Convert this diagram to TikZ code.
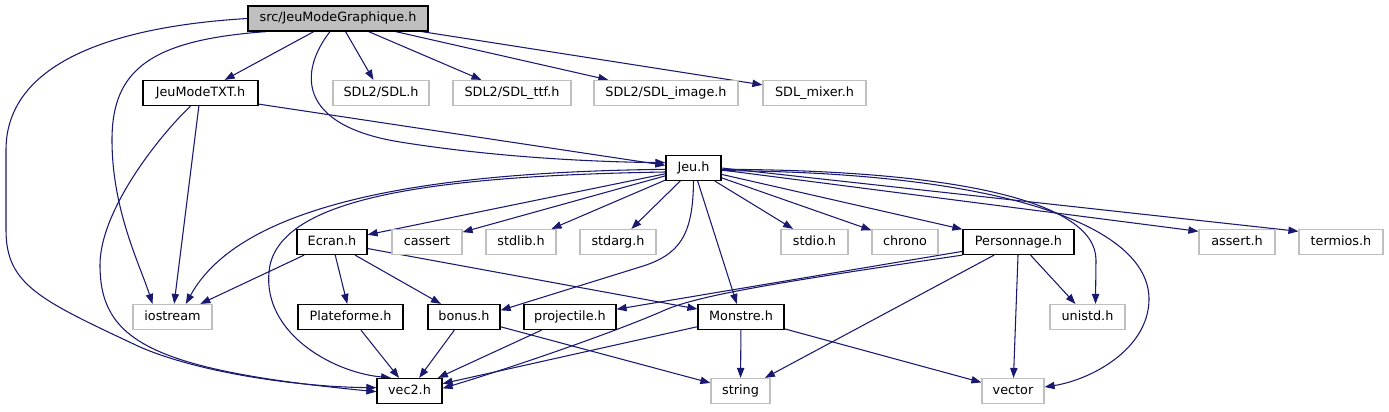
\documentclass[tikz,border=0pt]{standalone}
\usepackage{fontspec}
\setmainfont{DejaVu Sans}
\usetikzlibrary{arrows.meta,backgrounds}
\definecolor{edgeblue}{RGB}{25,25,112}
\definecolor{sysgray}{RGB}{191,191,191}
\tikzset{
  nodebase/.style={font=\fontsize{9.6}{11}\selectfont, inner sep=0pt, minimum height=18.75pt, text height=7pt, text depth=2pt, line width=0.9pt, fill=white},
  projbox/.style={nodebase, draw=black},
  sysbox/.style={nodebase, draw=sysgray},
  mainbox/.style={nodebase, draw=black, fill=sysgray},
  edge/.style={draw=edgeblue, line width=0.8pt, -{Triangle[length=7.5pt,width=5.5pt]}}
}
\begin{document}
\begin{tikzpicture}[x=0.75pt,y=-0.75pt]
\useasboundingbox (0,0) rectangle (1389,411);
% row 0
\node[mainbox, minimum width=135pt] (jmg) at (338,18.5) {src/JeuModeGraphique.h};
% row 1
\node[projbox, minimum width=86.25pt] (txt) at (200.5,93) {JeuModeTXT.h};
\node[sysbox, minimum width=72pt] (sdl) at (381,93) {SDL2/SDL.h};
\node[sysbox, minimum width=88.5pt] (ttf) at (512,93) {SDL2/SDL\_ttf.h};
\node[sysbox, minimum width=108pt] (img) at (666,93) {SDL2/SDL\_image.h};
\node[sysbox, minimum width=77.25pt] (mix) at (814.5,93) {SDL\_mixer.h};
% row 2
\node[projbox, minimum width=41.25pt] (jeu) at (693.5,168) {Jeu.h};
% row 3
\node[projbox, minimum width=52.5pt] (ecran) at (332,242) {Ecran.h};
\node[sysbox, minimum width=52.5pt] (cassert) at (427,242) {cassert};
\node[sysbox, minimum width=52.5pt] (stdlib) at (521,242) {stdlib.h};
\node[sysbox, minimum width=57pt] (stdarg) at (618,242) {stdarg.h};
\node[sysbox, minimum width=50.25pt] (stdio) at (814.5,242) {stdio.h};
\node[sysbox, minimum width=49.5pt] (chrono) at (905,242) {chrono};
\node[projbox, minimum width=83.25pt] (perso) at (1018.5,242) {Personnage.h};
\node[sysbox, minimum width=57pt] (assert) at (1237,242) {assert.h};
\node[sysbox, minimum width=63pt] (termios) at (1341,242) {termios.h};
% row 4
\node[sysbox, minimum width=59.25pt] (iostream) at (172.5,317) {iostream};
\node[projbox, minimum width=78.75pt] (plat) at (350.5,317) {Plateforme.h};
\node[projbox, minimum width=54pt] (bonus) at (464,317) {bonus.h};
\node[projbox, minimum width=69pt] (proj) at (570,317) {projectile.h};
\node[projbox, minimum width=64.5pt] (monstre) at (741,317) {Monstre.h};
\node[sysbox, minimum width=56.25pt] (unistd) at (1087.5,317) {unistd.h};
% row 5
\node[projbox, minimum width=48.75pt] (vec2) at (409.5,391) {vec2.h};
\node[sysbox, minimum width=44.25pt] (string) at (740.5,391) {string};
\node[sysbox, minimum width=46.5pt] (vector) at (1013,391) {vector};

\begin{scope}[on background layer]
% from src/JeuModeGraphique.h
\draw[edge] (jmg) -- (txt);
\draw[edge] (jmg) -- (sdl);
\draw[edge] (jmg) -- (ttf);
\draw[edge] (jmg) -- (img);
\draw[edge] (jmg) -- (mix);
\draw[edge] ([xshift=-6pt]jmg.south) .. controls (300,70) and (295,125) .. (400,142)
  .. controls (500,158) and (600,162) .. ([yshift=4pt]jeu.west);
\draw[edge] ([xshift=14.25pt]jmg.south west) .. controls (150,40) and (112,70) .. (112,140)
  .. controls (112,210) and (140,265) .. ([xshift=-15pt]iostream.north);
\draw[edge] (jmg.west) .. controls (120,26) and (6,60) .. (6,150) -- (6,230)
  .. controls (6,285) and (40,300) .. (140,347) .. controls (200,373) and (300,387) .. ([yshift=2.5pt]vec2.west);
% from JeuModeTXT.h
\draw[edge] ([yshift=1.5pt]txt.south east) -- ([yshift=2pt]jeu.west);
\draw[edge] (txt) -- (iostream);
\draw[edge] ([xshift=-7.5pt]txt.south) .. controls (160,135) and (100,210) .. (100,265)
  .. controls (100,340) and (150,370) .. ([yshift=-0.5pt]vec2.west);
% from Jeu.h
\draw[edge] ([yshift=-1pt]jeu.west) .. controls (420,172) and (240,205) .. ([xshift=10pt]iostream.north);
\draw[edge] ([yshift=-3pt]jeu.west) .. controls (420,176) and (285,200) .. (270,265)
  .. controls (258,330) and (330,372) .. ([xshift=11pt]vec2.north west);
\draw[edge] (jeu) -- (ecran);
\draw[edge] (jeu) -- (cassert);
\draw[edge] (jeu) -- (stdlib);
\draw[edge] (jeu) -- (stdarg);
\draw[edge] (jeu.south) .. controls (693,235) and (680,255) .. (640,267) -- ([yshift=5pt]bonus.east);
\draw[edge] (jeu) -- (monstre);
\draw[edge] (jeu) -- (stdio);
\draw[edge] (jeu) -- (chrono);
\draw[edge] (jeu) -- (perso);
\draw[edge] ([yshift=-1pt]jeu.east) .. controls (950,170) and (1096,200) .. (1096,260) -- ([xshift=6pt]unistd.north);
\draw[edge] ([yshift=-2pt]jeu.east) .. controls (1000,172) and (1150,225) .. (1149,300)
  .. controls (1148,350) and (1090,380) .. ([yshift=3pt]vector.east);
\draw[edge] ([yshift=-1.5pt]jeu.east) -- ([yshift=8pt]assert.west);
\draw[edge] ([yshift=0pt]jeu.east) -- ([yshift=8pt]termios.west);
% from Ecran.h
\draw[edge] (ecran) -- (iostream);
\draw[edge] (ecran) -- (plat);
\draw[edge] (ecran) -- (bonus);
\draw[edge] (ecran) -- (monstre);
% from Personnage.h
\draw[edge] (perso) -- (proj);
\draw[edge] (perso.south west) .. controls (780,282) and (700,295) .. (665,310)
  .. controls (620,330) and (520,365) .. ([yshift=2pt]vec2.east);
\draw[edge] (perso) -- (string);
\draw[edge] (perso) -- (vector);
\draw[edge] (perso) -- (unistd);
% lower rows
\draw[edge] (plat) -- (vec2);
\draw[edge] (bonus) -- (vec2);
\draw[edge] (bonus) -- (string);
\draw[edge] (proj) -- (vec2);
\draw[edge] (monstre) -- (vec2);
\draw[edge] (monstre) -- (string);
\draw[edge] (monstre) -- (vector);
\end{scope}
\end{tikzpicture}
\end{document}
